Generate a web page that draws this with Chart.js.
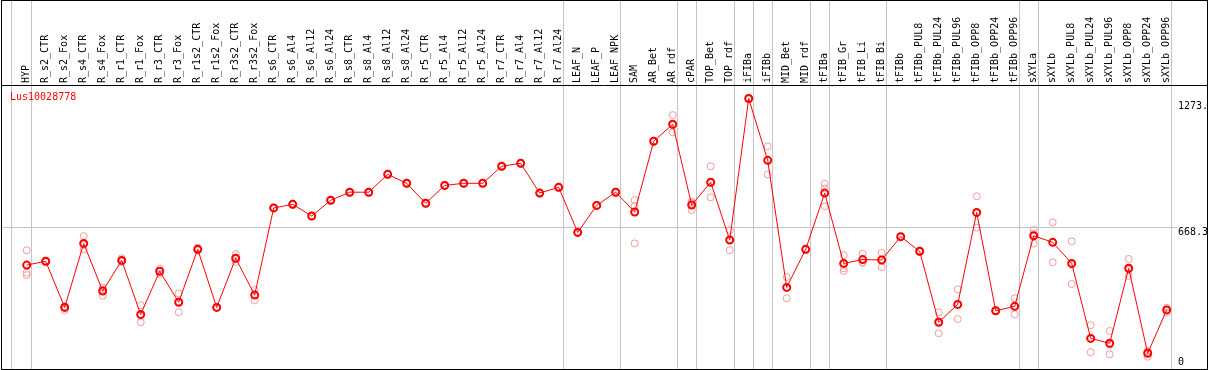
<!DOCTYPE html>
<html>
<head>
<meta charset="utf-8">
<script src="https://cdn.jsdelivr.net/npm/chart.js@4/dist/chart.umd.min.js"></script>
<style>
  html, body { margin: 0; padding: 0; background: #fff; }
  #wrap { width: 1209px; height: 370px; }
</style>
</head>
<body>
<div id="wrap"><canvas id="myChart" width="1209" height="370"></canvas></div>
<script>
const geneName = 'Lus10028778';

const categories = ['HYP', 'R_s2_CTR', 'R_s2_Fox', 'R_s4_CTR', 'R_s4_Fox', 'R_r1_CTR', 'R_r1_Fox',
    'R_r3_CTR', 'R_r3_Fox', 'R_r1s2_CTR', 'R_r1s2_Fox', 'R_r3s2_CTR', 'R_r3s2_Fox', 'R_s6_CTR',
    'R_s6_Al4', 'R_s6_Al12', 'R_s6_Al24', 'R_s8_CTR', 'R_s8_Al4', 'R_s8_Al12', 'R_s8_Al24',
    'R_r5_CTR', 'R_r5_Al4', 'R_r5_Al12', 'R_r5_Al24', 'R_r7_CTR', 'R_r7_Al4', 'R_r7_Al12', 'R_r7_Al24',
    'LEAF_N', 'LEAF_P', 'LEAF_NPK', 'SAM', 'AR_Bet', 'AR_rdf', 'cPAR', 'TOP_Bet', 'TOP_rdf',
    'iFIBa', 'iFIBb', 'MID_Bet', 'MID_rdf', 'tFIBa', 'tFIB_Gr', 'tFIB_Li', 'tFIB_Bi', 'tFIBb',
    'tFIBb_PUL8', 'tFIBb_PUL24', 'tFIBb_PUL96', 'tFIBb_OPP8', 'tFIBb_OPP24', 'tFIBb_OPP96',
    'sXYLa', 'sXYLb', 'sXYLb_PUL8', 'sXYLb_PUL24', 'sXYLb_PUL96', 'sXYLb_OPP8', 'sXYLb_OPP24', 'sXYLb_OPP96'];

// mean expression per sample
const means = [489, 507, 290, 591, 367, 511, 257, 460, 314, 563, 290, 521, 348, 758,
    775, 720, 794, 832, 832, 916, 874, 780, 864, 874, 874, 954, 968, 828, 855,
    643, 770, 832, 739, 1072, 1152, 772, 879, 607,
    1273, 982, 384, 563, 828, 497, 515, 513, 623,
    554, 220, 304, 737, 274, 295,
    627, 596, 497, 144, 121, 474, 74, 278];

// replicates
const rep1 = [559, 510, 296, 626, 383, 521, 300, 472, 356, 571, 292, 541, 372, 761,
    778, 723, 797, 835, 835, 919, 877, 783, 867, 877, 877, 957, 971, 831, 858,
    646, 773, 835, 795, 1075, 1195, 787, 954, 653,
    1276, 1048, 433, 566, 872, 536, 543, 547, 626,
    558, 267, 375, 813, 277, 333,
    654, 690, 601, 206, 179, 518, 58, 288];
const rep2 = [453, 503, 278, 563, 345, 504, 220, 447, 267, 560, 288, 504, 323, 755,
    772, 717, 791, 829, 829, 913, 871, 777, 861, 871, 871, 951, 965, 825, 852,
    640, 767, 829, 591, 1069, 1114, 748, 808, 559,
    1270, 916, 333, 560, 766, 461, 500, 479, 620,
    550, 168, 235, 665, 271, 257,
    590, 502, 400, 79, 69, 438, 84, 266];
const rep3 = [442, 508, 294, 584, 373, 509, 251, 461, 319, 558, 290, 518, 349, 758,
    775, 720, 794, 832, 832, 916, 874, 780, 864, 874, 874, 954, 968, 828, 855,
    643, 770, 832, 767, 1072, 1147, 781, 875, 609,
    1273, 982, 386, 563, 850, 474, 502, 513, 623,
    554, 225, 302, 733, 274, 295,
    637, 596, 490, 147, 115, 466, 80, 280];

const yTicks = [0, 668.3, 1273];
const yMax = 1336.6;

// index of the last sample of each group (line drawn just after it)
const groupEnds = [-1.07, 0, 28, 31, 34, 35, 37, 38, 39, 41, 42, 45, 52, 53, 60];

const toPts = arr => arr.map((v, i) => ({ x: i, y: v }));
const repStyle = {
    showLine: false,
    pointRadius: 3.5,
    pointBorderWidth: 1,
    pointBorderColor: 'rgb(240, 155, 155)',
    pointBackgroundColor: 'rgba(0,0,0,0)',
    pointHoverRadius: 3.5
};

const framePlugin = {
    id: 'frame',
    beforeDatasetsDraw(chart) {
        const ctx = chart.ctx;
        const xs = chart.scales.x;
        const area = chart.chartArea;
        ctx.save();
        ctx.strokeStyle = '#c4c4c4';
        ctx.lineWidth = 1;
        for (let g of groupEnds) {
            const px = Math.round(xs.getPixelForValue(g + 0.23)) + 0.5;
            ctx.beginPath();
            ctx.moveTo(px, 0);
            ctx.lineTo(px, area.bottom);
            ctx.stroke();
        }
        ctx.restore();
    },
    afterDraw(chart) {
        const ctx = chart.ctx;
        const area = chart.chartArea;
        ctx.save();
        ctx.strokeStyle = '#000';
        ctx.lineWidth = 1;
        ctx.strokeRect(1.5, 0.5, 1206, area.bottom);
        ctx.beginPath();
        ctx.moveTo(1, area.top + 0.5);
        ctx.lineTo(1208, area.top + 0.5);
        ctx.stroke();
        ctx.fillStyle = '#ff0000';
        ctx.font = '10px "DejaVu Sans Mono"';
        ctx.textBaseline = 'middle';
        ctx.fillText(geneName, 10, area.top + 12);
        ctx.restore();
    }
};

const canvas = document.getElementById('myChart');
const ctx = canvas.getContext('2d');

new Chart(ctx, {
    type: 'line',
    data: {
        datasets: [{
            label: 'mean',
            data: toPts(means),
            borderColor: '#ff0000',
            borderWidth: 1,
            pointRadius: 3.5,
            pointBorderWidth: 2,
            pointBorderColor: '#ff0000',
            pointBackgroundColor: 'rgba(0,0,0,0)',
            tension: 0
        },
        Object.assign({ label: 'rep1', data: toPts(rep1) }, repStyle),
        Object.assign({ label: 'rep2', data: toPts(rep2) }, repStyle),
        Object.assign({ label: 'rep3', data: toPts(rep3) }, repStyle)]
    },
    options: {
        responsive: false,
        animation: false,
        events: [],
        layout: { autoPadding: false, padding: { left: 1, top: 0, right: 0, bottom: 1 } },
        plugins: { legend: { display: false }, tooltip: { enabled: false } },
        scales: {
            x: {
                type: 'linear',
                position: 'top',
                min: -1.3526,
                max: 60.542,
                afterBuildTicks: axis => { axis.ticks = categories.map((c, i) => ({ value: i })); },
                afterFit: axis => {
                    axis.height = 85;
                    axis.paddingLeft = 0;
                    axis.paddingRight = 0;
                },
                grid: { display: false, drawTicks: false },
                border: { display: false },
                ticks: {
                    autoSkip: false,
                    minRotation: 90,
                    maxRotation: 90,
                    padding: 2,
                    labelOffset: 12,
                    color: '#000',
                    font: { family: '"DejaVu Sans Mono"', size: 10 },
                    callback: v => categories[v]
                }
            },
            y: {
                position: 'right',
                min: 0,
                max: yMax,
                afterBuildTicks: axis => { axis.ticks = yTicks.map(v => ({ value: v })); },
                afterFit: axis => {
                    axis.width = 32;
                    axis.paddingTop = 0;
                    axis.paddingBottom = 0;
                },
                grid: {
                    drawTicks: false,
                    color: c => c.tick && c.tick.value === 668.3 ? '#c4c4c4' : 'rgba(0,0,0,0)'
                },
                border: { display: false },
                ticks: {
                    padding: 1,
                    color: '#000',
                    font: c => {
                        const v = c.tick ? c.tick.value : 0;
                        const lh = v === 0 ? '14px' : v === 668.3 ? '10px' : '16px';
                        return { family: '"DejaVu Sans Mono"', size: 10, lineHeight: lh };
                    },
                    callback: v => v === 0 ? ['0', ''] : v === 1273 ? ['', '1273.'] : ['', String(v)]
                }
            }
        }
    },
    plugins: [framePlugin]
});
</script>
</body>
</html>
